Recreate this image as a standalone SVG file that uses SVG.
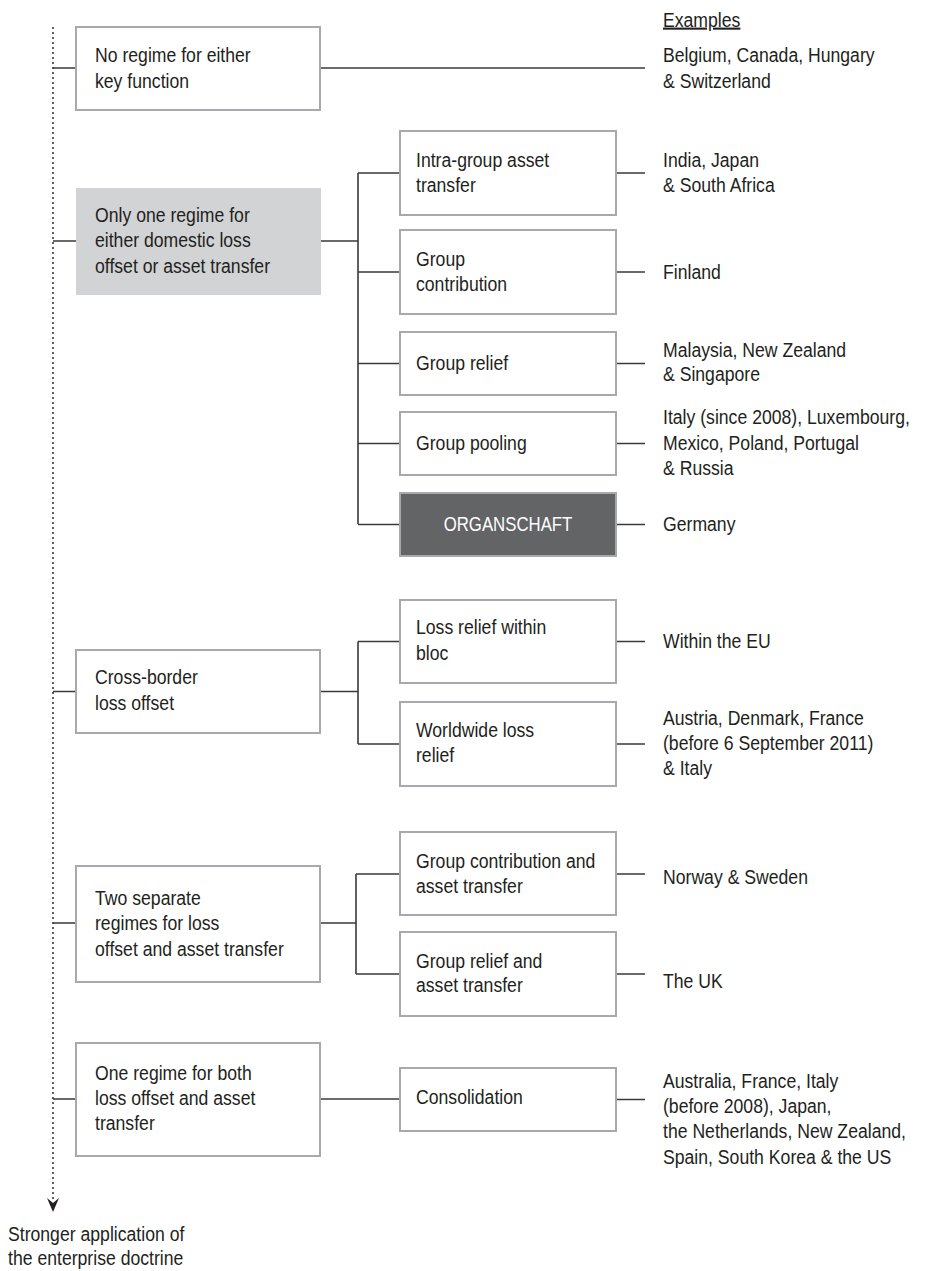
<svg xmlns="http://www.w3.org/2000/svg" width="925" height="1271" viewBox="0 0 925 1271">
<style>
.t{font-family:"Liberation Sans",Arial,sans-serif;font-size:21px;fill:#231f20}
.w{fill:#ffffff}
.box{fill:#ffffff;stroke:#a7a9ac;stroke-width:2}
.gray{fill:#d1d3d4}
.dark{fill:#636466;stroke:#a7a9ac;stroke-width:2}
.c{fill:none;stroke:#3a3a3a;stroke-width:1.6}
.dot{fill:none;stroke:#3a3a3a;stroke-width:1.6;stroke-dasharray:2 3}
</style>
<rect width="925" height="1271" fill="#ffffff"/>
<g id="connectors">
<line class="dot" x1="53" y1="27" x2="53" y2="1200"/>
<path d="M47,1198 L53,1212 L59,1198 L53,1203 Z" fill="#231f20"/>
<path class="c" d="M53,68H76 M53,241H76 M53,691.5H76 M53,923H76 M53,1099H76"/>
<path class="c" d="M320,68H645"/>
<path class="c" d="M321,241H358 M358,173V524 M358,173H400 M358,272H400 M358,363.5H400 M358,443.5H400 M358,524.5H400"/>
<path class="c" d="M320,691.5H358 M358,641.5V744 M358,641.5H400 M358,744H400"/>
<path class="c" d="M320,923H356 M356,874V974 M356,874H400 M356,974H400"/>
<path class="c" d="M320,1099H400"/>
<path class="c" d="M616,173H645 M616,272H645 M616,363.5H645 M616,443.5H645 M616,524.5H645 M616,641.5H645 M616,744H645 M616,874H645 M616,974H645 M616,1099.5H645"/>
</g>
<g id="axis-label">
<text class="t" transform="translate(8,1240.5) scale(0.84,1)"><tspan x="0" y="0">Stronger application of</tspan><tspan x="0" y="25">the enterprise doctrine</tspan></text>
</g>
<g id="examples-header">
<text class="t" text-decoration="underline" transform="translate(663,26.5) scale(0.84,1)">Examples</text>
</g>
<g id="n-none">
<rect class="box" x="76" y="27" width="244" height="83"/>
<text class="t" transform="translate(95,62) scale(0.84,1)"><tspan x="0" y="0">No regime for either</tspan><tspan x="0" y="26">key function</tspan></text>
</g>
<g id="ex-none">
<text class="t" transform="translate(663,62) scale(0.84,1)"><tspan x="0" y="0">Belgium, Canada, Hungary</tspan><tspan x="0" y="26">&amp; Switzerland</tspan></text>
</g>
<g id="n-one">
<rect class="gray" x="76" y="188" width="245" height="107"/>
<text class="t" transform="translate(95,221.5) scale(0.84,1)"><tspan x="0" y="0">Only one regime for</tspan><tspan x="0" y="26">either domestic loss</tspan><tspan x="0" y="52">offset or asset transfer</tspan></text>
</g>
<g id="n-intra">
<rect class="box" x="400" y="131" width="216" height="84"/>
<text class="t" transform="translate(416,166.5) scale(0.84,1)"><tspan x="0" y="0">Intra-group asset</tspan><tspan x="0" y="26">transfer</tspan></text>
</g>
<g id="ex-intra">
<text class="t" transform="translate(663,166.5) scale(0.84,1)"><tspan x="0" y="0">India, Japan</tspan><tspan x="0" y="26">&amp; South Africa</tspan></text>
</g>
<g id="n-gc">
<rect class="box" x="400" y="230" width="216" height="84"/>
<text class="t" transform="translate(416,265.5) scale(0.84,1)"><tspan x="0" y="0">Group</tspan><tspan x="0" y="26">contribution</tspan></text>
</g>
<g id="ex-gc">
<text class="t" transform="translate(663,278.5) scale(0.84,1)">Finland</text>
</g>
<g id="n-gr">
<rect class="box" x="400" y="332" width="216" height="63"/>
<text class="t" transform="translate(416,369.5) scale(0.84,1)">Group relief</text>
</g>
<g id="ex-gr">
<text class="t" transform="translate(663,356.5) scale(0.84,1)"><tspan x="0" y="0">Malaysia, New Zealand</tspan><tspan x="0" y="25">&amp; Singapore</tspan></text>
</g>
<g id="n-gp">
<rect class="box" x="400" y="412" width="216" height="63"/>
<text class="t" transform="translate(416,450) scale(0.84,1)">Group pooling</text>
</g>
<g id="ex-gp">
<text class="t" transform="translate(663,424) scale(0.84,1)"><tspan x="0" y="0">Italy (since 2008), Luxembourg,</tspan><tspan x="0" y="26">Mexico, Poland, Portugal</tspan><tspan x="0" y="51">&amp; Russia</tspan></text>
</g>
<g id="n-org">
<rect class="dark" x="400" y="493" width="216" height="63"/>
<text class="t w" text-anchor="middle" transform="translate(508,531) scale(0.8,1)">ORGANSCHAFT</text>
</g>
<g id="ex-org">
<text class="t" transform="translate(663,530.5) scale(0.84,1)">Germany</text>
</g>
<g id="n-cross">
<rect class="box" x="76" y="650" width="244" height="83"/>
<text class="t" transform="translate(95,684) scale(0.84,1)"><tspan x="0" y="0">Cross-border</tspan><tspan x="0" y="26">loss offset</tspan></text>
</g>
<g id="n-bloc">
<rect class="box" x="400" y="600" width="216" height="83"/>
<text class="t" transform="translate(416,634) scale(0.84,1)"><tspan x="0" y="0">Loss relief within</tspan><tspan x="0" y="26">bloc</tspan></text>
</g>
<g id="ex-bloc">
<text class="t" transform="translate(663,647.5) scale(0.84,1)">Within the EU</text>
</g>
<g id="n-world">
<rect class="box" x="400" y="702" width="216" height="84"/>
<text class="t" transform="translate(416,736.5) scale(0.84,1)"><tspan x="0" y="0">Worldwide loss</tspan><tspan x="0" y="26">relief</tspan></text>
</g>
<g id="ex-world">
<text class="t" transform="translate(663,725) scale(0.84,1)"><tspan x="0" y="0">Austria, Denmark, France</tspan><tspan x="0" y="25">(before 6 September 2011)</tspan><tspan x="0" y="50">&amp; Italy</tspan></text>
</g>
<g id="n-two">
<rect class="box" x="76" y="866" width="244" height="116"/>
<text class="t" transform="translate(95,904.5) scale(0.84,1)"><tspan x="0" y="0">Two separate</tspan><tspan x="0" y="26">regimes for loss</tspan><tspan x="0" y="52">offset and asset transfer</tspan></text>
</g>
<g id="n-gcat">
<rect class="box" x="400" y="832" width="216" height="83"/>
<text class="t" transform="translate(416,867.5) scale(0.84,1)"><tspan x="0" y="0">Group contribution and</tspan><tspan x="0" y="26">asset transfer</tspan></text>
</g>
<g id="ex-gcat">
<text class="t" transform="translate(663,884) scale(0.84,1)">Norway &amp; Sweden</text>
</g>
<g id="n-grat">
<rect class="box" x="400" y="932" width="216" height="84"/>
<text class="t" transform="translate(416,967.5) scale(0.84,1)"><tspan x="0" y="0">Group relief and</tspan><tspan x="0" y="25">asset transfer</tspan></text>
</g>
<g id="ex-grat">
<text class="t" transform="translate(663,987.5) scale(0.84,1)">The UK</text>
</g>
<g id="n-both">
<rect class="box" x="76" y="1043" width="244" height="113"/>
<text class="t" transform="translate(95,1079.5) scale(0.84,1)"><tspan x="0" y="0">One regime for both</tspan><tspan x="0" y="25.5">loss offset and asset</tspan><tspan x="0" y="51">transfer</tspan></text>
</g>
<g id="n-cons">
<rect class="box" x="400" y="1068" width="216" height="63"/>
<text class="t" transform="translate(416,1104) scale(0.84,1)">Consolidation</text>
</g>
<g id="ex-cons">
<text class="t" transform="translate(663,1087.5) scale(0.84,1)"><tspan x="0" y="0">Australia, France, Italy</tspan><tspan x="0" y="25.5">(before 2008), Japan,</tspan><tspan x="0" y="51">the Netherlands, New Zealand,</tspan><tspan x="0" y="76.5">Spain, South Korea &amp; the US</tspan></text>
</g>
</svg>
